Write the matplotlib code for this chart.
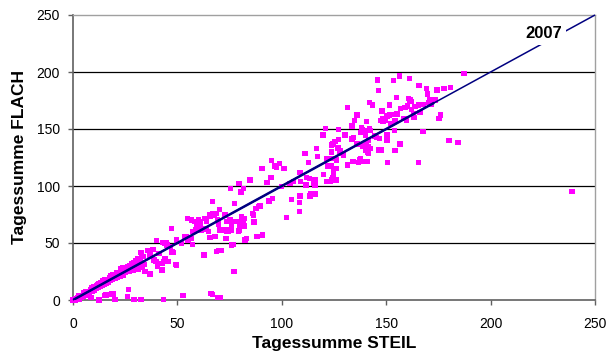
import matplotlib
matplotlib.use("Agg")
import matplotlib.pyplot as plt

# ---------------- data ----------------
# dense band near origin
steil_band = [0, 0.5, 1, 1.5, 2, 2.5, 3, 3.5, 4, 4.5,
              5, 5.5, 6, 6.5, 7, 7.5, 8, 8.5, 9, 9.5,
              10, 10.5, 11, 11.5, 12, 12.5, 13, 13.5, 14, 14.5,
              15, 15.5, 16, 16.5, 17, 17.5, 18, 18.5, 19, 19.5,
              20, 20.5, 21, 22, 22.5, 23, 24, 24.5, 25, 26,
              27, 28, 29, 30, 31, 32, 33, 34,
              3, 6, 9, 12, 15, 18, 21, 23, 26, 28, 30, 31, 33,
              5, 10, 14, 19, 24, 27, 29]
flach_band = [0, 0, 0.5, 1, 0.5, 2, 1, 3, 2, 4,
              3, 5, 4.5, 6, 5.5, 7, 6.5, 9, 7.5, 10,
              9, 11, 10, 12.5, 11, 14, 12, 15, 13, 16.5,
              14, 17, 15, 18, 16, 19.5, 17, 20, 18, 21,
              19, 22, 20, 23, 21, 24.5, 22, 26, 24, 27,
              25, 28, 26, 30, 27, 31, 29, 31,
              3.5, 7, 11, 13.5, 17.5, 21, 24, 27, 29, 31.5, 34, 36, 38,
              6.5, 12, 15.5, 22.5, 28, 30, 33]

# points close to zero FLACH
steil_zero = [8.6, 15, 18.8, 20, 26.5, 26.2, 29.2, 32.6, 43.3, 52.8,
              66, 66.9, 69.3, 70.4, 12.5, 15.7, 19.4, 1, 2]
flach_zero = [2, 4, 5.3, 0.6, 9.4, 2.9, 0.6, 0.6, 0.6, 4,
              5.8, 4.7, 2, 2, 0, 4.4, 5.4, 0, 1.2]

# middle range
steil_mid = [32.6, 32.1, 31.4, 33.7, 35.6, 36.9, 34.5, 36.9, 38.2, 38.8,
             39.8, 40, 40.5, 41.3, 42.5, 42.9, 44.5, 43.3, 44.1, 45.2,
             46.5, 47.2, 47.2, 49.3, 49.6, 52, 54.8, 54.4, 56.8, 57.3,
             58.9, 59.2, 61.1, 61.6, 62.7, 63.2, 63.7, 65.6, 65.9, 66.9,
             67.5, 68, 68.8, 70, 71.2, 69.1, 69.6, 70.1, 70.4, 71.7,
             72.8, 73.6, 73.3, 74.4, 75.5, 76, 76, 76.8, 77.1, 77.4,
             78.4, 79.5, 79.5, 80.5, 80.8, 81.6, 82, 82.4, 83.2, 84.8,
             86, 86.7, 87.6, 88, 88.8, 89.6, 90.4, 90.7, 92.8, 93.6,
             94.7, 95.1, 95.5, 96.7, 98.8, 99.9, 101, 102.3, 103.9, 104.7,
             105.5, 108.4, 108.4, 108.7, 109, 111.1, 111.6, 112.7, 113.2, 113.5,
             113.8, 115.1, 115.9, 116.7, 117.2, 119.8, 120.9, 121.4, 121.5, 123,
             123.9, 124.4, 124.7, 125.6, 126, 126.3, 127, 127.2, 120, 123.9,
             126.3,
             62.4, 65.6, 66.9, 68.5, 73.6, 75.2, 74.4, 77.6, 80, 79.2,
             86.4, 94, 44.9, 44.1, 47.3, 48.1, 45.7, 42.5, 49.6, 42.5,
             53.6, 55.2, 56.8, 57.6, 58.4, 60, 60.8, 64, 64.8, 65.3,
             73.6, 76, 78.9, 81.3, 81.9,
             124.4, 127.1, 123.9, 127.1, 127.9, 129.2, 123.9, 121.8, 123.6, 124.7,
             115.9, 115.9, 108.7, 111.9, 97.5]
flach_mid = [41.5, 36.5, 35.7, 38, 43.3, 39.5, 24.9, 22.8, 44.4, 35,
             33.6, 52, 29.2, 40.9, 26.9, 50.3, 50.3, 33.6, 36.5, 33.6,
             46.8, 62.9, 41.5, 31.3, 52.6, 49.7, 71.6, 55.6, 70.2, 48.8,
             61.4, 66.7, 68.7, 61.4, 39.5, 71.6, 62, 55, 73.7, 86.3,
             74.6, 55.6, 42.4, 43.3, 43.3, 70.2, 66.7, 79.5, 61.4, 61.4,
             74.6, 59.9, 53.8, 68.7, 98, 61.4, 48.2, 48.8, 24.9, 84.8,
             68.7, 102.3, 60.8, 94.7, 73.1, 98, 71.6, 52.6, 53.8, 105.3,
             76, 68.4, 80.4, 55.6, 81.9, 82.5, 115.5, 57, 103, 87.1,
             107.6, 122.2, 89.2, 117.5, 119.9, 99.4, 115.5, 72.5, 102.3, 88.3,
             103.8, 77.5, 85.4, 111.7, 103.8, 128.7, 100.9, 120.5, 106.7, 91.2,
             93.3, 102.3, 93, 133, 125.7, 144.7, 150.6, 124.3, 103.8, 103.8,
             105.3, 107.3, 111.1, 138.9, 115.5, 122.8, 133, 149.7, 110, 136,
             105.3,
             62.9, 74.5, 76, 76, 68.7, 70.2, 60, 68.7, 65.8, 60,
             74.6, 86.3, 48.2, 49.7, 42.4, 41.5, 33.6, 32.2, 30.7, 26.3,
             55.6, 52.6, 54, 60, 68.7, 70.2, 64.3, 68.7, 60, 55,
             61.4, 65.8, 68.7, 70.2, 65,
             136.8, 140.9, 129.8, 133.6, 130.7, 128.7, 124.3, 117.6, 117.6, 114,
             105.8, 100.9, 91.2, 107.6, 116.4]

# upper range
steil_high = [129.5, 131.4, 131.4, 130.3, 133.5, 134, 134.3, 134.8, 135.9, 136.7,
              137.8, 137.5, 137.9, 138.2, 138.7, 139.8, 140.1, 140.3, 140.6, 140.6,
              141.1, 141.4, 142.2, 141.9, 141.9, 143.5, 144.6, 145.4, 145.9, 146.3,
              146.3, 146.7, 147.4, 147.4, 147.9, 148.3, 149.4, 150.5, 150.5, 150.7,
              151.5, 151.5, 152.2, 153.1, 153.4, 153.9, 154.2, 154.2, 155, 155.3,
              156.3, 156.6, 156.9, 158.5, 159, 159.8, 160.1, 160.6, 161.1, 161.4,
              162.2, 162.2, 163, 163.3, 163.8, 165.4, 165.4, 165.7, 166.2, 167.5,
              167.8, 169.4, 169.7, 170.2, 170.7, 171.8, 173.4, 174.2, 175.4, 176.1,
              177.7, 180.2, 180.9, 184.5, 187.3, 239.1,
              133.5, 136, 138.4, 140, 141.6, 142.4, 140.9, 141.6, 137.6, 140.9,
              148.6, 150.5]
flach_high = [127.2, 168.7, 118.4, 144.7, 152.6, 121.3, 142.7, 157.3, 162.3, 120.5,
              121.3, 123.4, 146.8, 151.2, 135.1, 148.5, 121.3, 131, 156.4, 137.4,
              129.2, 134.5, 133, 173.1, 150.6, 171, 143.9, 142.7, 193, 183.6,
              131.6, 141.8, 131.6, 157.3, 165.8, 159.4, 157.3, 144.7, 140.4, 120.8,
              171, 162.3, 155, 162.9, 192.4, 148.5, 131, 157.3, 177.8, 163.2,
              196.5, 136.8, 168.1, 159.4, 169, 157.9, 170.2, 176.9, 194.2, 175.4,
              174, 167.3, 163.7, 160.2, 169.6, 120.8, 171, 188, 164.3, 147.7,
              171.6, 185.7, 180.7, 173.1, 176, 171.9, 175.4, 184.2, 159.4, 162.3,
              185.7, 139.8, 186.5, 138, 198.8, 95,
              141, 137, 149.5, 144.6, 140, 148.8, 133, 128.7, 124.3, 121.3,
              156.4, 161.4]

line_x = [0, 250]
line_y = [0, 250]
fit_x = [0, 173]
fit_y = [0, 173]
line_label = "2007"
label_pos = (225.5, 233.5)

x_ticks = [0, 50, 100, 150, 200, 250]
y_ticks = [0, 50, 100, 150, 200, 250]
x_label = "Tagessumme STEIL"
y_label = "Tagessumme FLACH"

steil = steil_band + steil_zero + steil_mid + steil_high
flach = flach_band + flach_zero + flach_mid + flach_high

# ---------------- plot ----------------
plt.rcParams['font.family'] = ['Liberation Sans', 'DejaVu Sans']

fig = plt.figure(figsize=(6.07, 3.54), dpi=100)
ax = fig.add_axes([73 / 607, 54 / 354, 522 / 607, 285 / 354])

ax.set_xlim(0, 250)
ax.set_ylim(0, 250)

for yv in y_ticks[1:-1]:
    ax.axhline(yv, color='black', lw=0.9, zorder=1)

ax.scatter(steil, flach, marker='s', s=16, color='#FF00FF',
           edgecolors='none', zorder=3, clip_on=False)

ax.plot(line_x, line_y, color='#000080', lw=1.1, zorder=4, clip_on=False,
        solid_capstyle='butt')
ax.plot(fit_x, fit_y, color='#000080', lw=1.8, zorder=4,
        solid_capstyle='butt')

ax.text(label_pos[0], label_pos[1], line_label, fontsize=12,
        fontweight='bold', ha='center', va='center', zorder=5,
        bbox=dict(facecolor='white', edgecolor='none', pad=2.5))

ax.set_xticks(x_ticks)
ax.set_yticks(y_ticks)
ax.tick_params(axis='both', direction='out', length=3.5, width=1,
               color='#606060', labelsize=10, labelcolor='black')
ax.tick_params(axis='x', pad=9)
ax.tick_params(axis='y', pad=6)

for side in ['left', 'bottom']:
    ax.spines[side].set_color('#606060')
    ax.spines[side].set_linewidth(1.2)
for side in ['top', 'right']:
    ax.spines[side].set_color('#a0a0a0')
    ax.spines[side].set_linewidth(1.0)

ax.set_xlabel(x_label, fontsize=12.5, fontweight='bold', labelpad=3)
ax.set_ylabel(y_label, fontsize=12.5, fontweight='bold', labelpad=7)

fig.savefig("out.png", dpi=100)
